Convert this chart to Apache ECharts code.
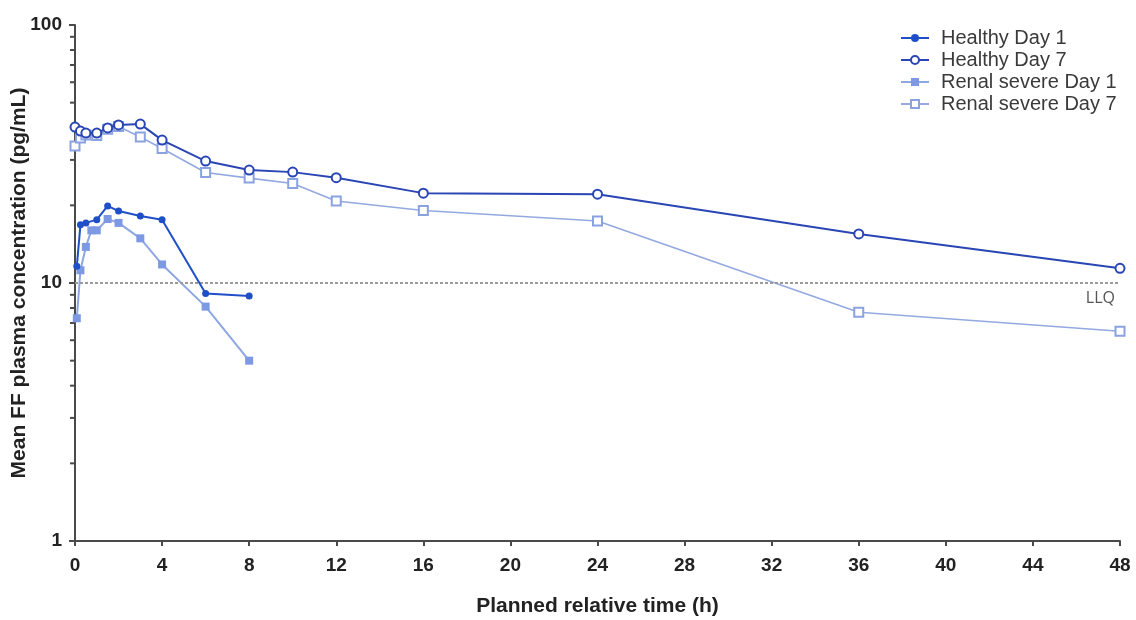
<!DOCTYPE html>
<html>
<head>
<meta charset="utf-8">
<script src="https://cdn.jsdelivr.net/npm/echarts@6/dist/echarts.min.js"></script>
<style>
  html, body { margin: 0; padding: 0; background: #fff; }
  #chart { width: 1136px; height: 620px; }
</style>
</head>
<body>
<div id="chart"></div>
<script>
// Sampling times (h)
const timesDay1 = [0.083, 0.25, 0.5, 1, 1.5, 2, 3, 4, 6, 8];
const timesRenalDay1 = [0.083, 0.25, 0.5, 0.75, 1, 1.5, 2, 3, 4, 6, 8];
const timesDay7 = [0, 0.25, 0.5, 1, 1.5, 2, 3, 4, 6, 8, 10, 12, 16, 24, 36, 48];

// Mean FF plasma concentrations (pg/mL)
const healthyDay1 = [11.6, 16.8, 17.1, 17.6, 19.9, 19.0, 18.2, 17.6, 9.1, 8.9];
const healthyDay7 = [40.2, 38.8, 38.1, 38.1, 39.9, 41.0, 41.3, 35.8, 29.7, 27.4, 26.9, 25.6, 22.3, 22.1, 15.5, 11.4];
const renalDay1 = [7.3, 11.2, 13.8, 16.0, 16.0, 17.7, 17.1, 14.9, 11.8, 8.1, 5.0];
const renalDay7 = [34.0, 36.5, 37.5, 37.3, 39.4, 40.4, 36.8, 33.2, 26.8, 25.5, 24.3, 20.8, 19.1, 17.4, 7.7, 6.5];

// Lower limit of quantification
const llq = 10;

// Log-axis minor tick positions (2..9 in each decade)
const minorTickValues = [];
for (const d of [1, 10]) for (let m = 2; m <= 9; m++) minorTickValues.push(m * d);

const seriesNames = ['Healthy Day 1', 'Healthy Day 7', 'Renal severe Day 1', 'Renal severe Day 7'];

const pair = (t, v) => t.map((x, i) => [x, v[i]]);

const axisColor = '#4a4a4a';
const font = 'Arial, "Liberation Sans", sans-serif';

const chart = echarts.init(document.getElementById('chart'));
chart.setOption({
  animation: false,
  backgroundColor: '#fff',
  grid: { left: 75, right: 16, top: 25, bottom: 79, containLabel: false, outerBoundsMode: 'none' },
  legend: {
    data: seriesNames,
    orient: 'vertical',
    left: 900,
    top: 28,
    padding: 0,
    itemWidth: 28,
    itemHeight: 10,
    itemGap: 2,
    textStyle: { fontFamily: font, fontSize: 20, lineHeight: 20, color: '#3a3a3a', padding: [0, 0, 0, 7] }
  },
  xAxis: {
    type: 'value',
    min: 0, max: 48, interval: 4,
    name: 'Planned relative time (h)',
    nameLocation: 'middle',
    nameGap: 55,
    nameMoveOverlap: false,
    nameTextStyle: { fontFamily: font, fontSize: 21, fontWeight: 'bold', color: '#222' },
    axisLine: { show: true, onZero: false, lineStyle: { color: axisColor, width: 2 } },
    axisTick: { show: true, length: 5, lineStyle: { color: axisColor, width: 2 } },
    axisLabel: { fontFamily: font, fontSize: 19, fontWeight: 'bold', color: '#222', margin: 15 },
    splitLine: { show: false }
  },
  yAxis: {
    type: 'log',
    logBase: 10,
    min: 1, max: 100,
    name: 'Mean FF plasma concentration (pg/mL)',
    nameLocation: 'middle',
    nameGap: 45,
    nameMoveOverlap: false,
    nameTextStyle: { fontFamily: font, fontSize: 21, fontWeight: 'bold', color: '#222' },
    axisLine: { show: true, lineStyle: { color: axisColor, width: 2 } },
    axisTick: { show: true, length: 6, lineStyle: { color: axisColor, width: 2 } },
    axisLabel: { fontFamily: font, fontSize: 19, fontWeight: 'bold', color: '#222', margin: 13 },
    splitLine: { show: false }
  },
  series: [
    {
      name: 'Healthy Day 1',
      type: 'line',
      data: pair(timesDay1, healthyDay1),
      symbol: 'circle', symbolSize: 7,
      lineStyle: { color: '#1f4fc8', width: 2 },
      itemStyle: { color: '#1f4fc8' },
      z: 5,
      markLine: {
        silent: true,
        symbol: 'none',
        data: [{ yAxis: llq }],
        lineStyle: { color: '#9a9a9a', type: [3, 2], width: 2 },
        label: {
          show: true, position: 'insideEndBottom', formatter: 'LLQ',
          fontFamily: '"Open Sans", Arial, sans-serif', fontSize: 16, color: '#555', distance: [5, 7]
        }
      }
    },
    {
      name: 'Healthy Day 7',
      type: 'line',
      data: pair(timesDay7, healthyDay7),
      symbol: 'emptyCircle', symbolSize: 9,
      lineStyle: { color: '#2a45b4', width: 2 },
      itemStyle: { color: '#2a45b4', borderWidth: 1.2 },
      z: 4
    },
    {
      name: 'Renal severe Day 1',
      type: 'line',
      data: pair(timesRenalDay1, renalDay1),
      symbol: 'rect', symbolSize: 8,
      lineStyle: { color: '#8ea6e2', width: 2 },
      itemStyle: { color: '#7d99e4' },
      z: 3
    },
    {
      name: 'Renal severe Day 7',
      type: 'line',
      data: pair(timesDay7, renalDay7),
      symbol: 'emptyRect', symbolSize: 9,
      lineStyle: { color: '#93a9e0', width: 1.6 },
      itemStyle: { color: '#8aa2e0', borderWidth: 1.2 },
      z: 2
    },
    {
      // minor ticks of the logarithmic y axis
      type: 'custom',
      silent: true,
      clip: false,
      data: minorTickValues.map(v => [0, v]),
      renderItem: function (params, api) {
        const p = api.coord([0, api.value(1)]);
        return {
          type: 'line',
          shape: { x1: p[0] - 5, y1: p[1], x2: p[0], y2: p[1] },
          style: { stroke: axisColor, lineWidth: 2 }
        };
      },
      z: 1
    }
  ]
});
</script>
</body>
</html>
